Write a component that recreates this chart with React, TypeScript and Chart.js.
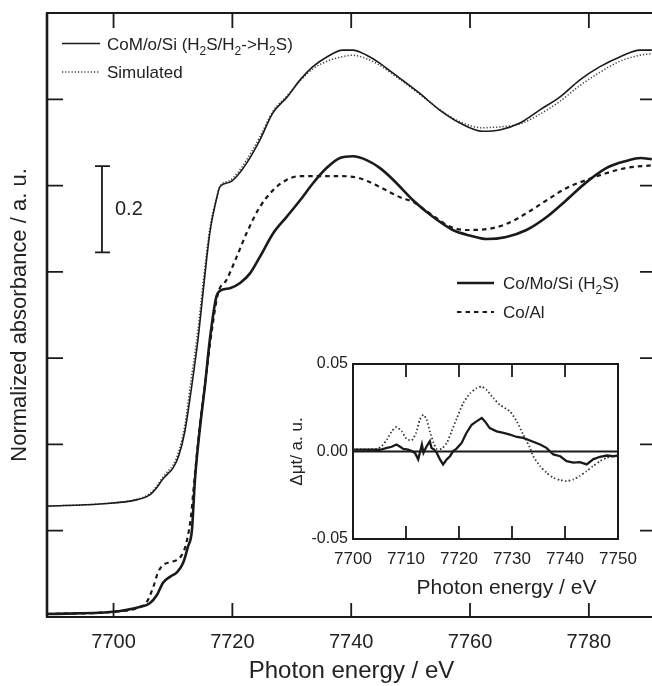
import React, { useEffect, useRef } from "react";
import { Chart, registerables } from "chart.js";

Chart.register(...registerables);

const FONT = "'Liberation Sans', Arial, Helvetica, sans-serif";
const INK = "#1a1a1a";

// ---------- main chart data ----------
const xTickVals = [7700, 7720, 7740, 7760, 7780];
const yTickVals = [0.2, 0.4, 0.6, 0.8, 1.0, 1.2];

// CoM/o/Si (H2S/H2->H2S) and Simulated share energies
const topE = [7688.8, 7697.7, 7704, 7706.1, 7707.3, 7708.2, 7709, 7710, 7711, 7712, 7713, 7714.2, 7715.2, 7716.2, 7717.4, 7717.9, 7719.6, 7720.9, 7722.4, 7724.6, 7726.8, 7729.2, 7731.4, 7733.5, 7735.9, 7738.6, 7740.3, 7742.6, 7744.8, 7747.0, 7751.5, 7754.9, 7758.3, 7762.1, 7765.0, 7768.4, 7771.7, 7775.1, 7778.5, 7781.8, 7785.2, 7788.6, 7790.6];
const topA = [0.257, 0.262, 0.272, 0.283, 0.300, 0.318, 0.330, 0.345, 0.375, 0.430, 0.520, 0.642, 0.770, 0.890, 0.973, 0.997, 1.008, 1.024, 1.052, 1.105, 1.168, 1.205, 1.245, 1.275, 1.298, 1.314, 1.314, 1.302, 1.284, 1.261, 1.214, 1.175, 1.145, 1.126, 1.129, 1.145, 1.175, 1.205, 1.245, 1.275, 1.298, 1.314, 1.314];
const simA = [0.257, 0.262, 0.273, 0.286, 0.304, 0.322, 0.336, 0.352, 0.385, 0.445, 0.545, 0.665, 0.790, 0.900, 0.975, 0.998, 1.012, 1.030, 1.060, 1.112, 1.172, 1.208, 1.243, 1.270, 1.288, 1.299, 1.302, 1.294, 1.279, 1.258, 1.212, 1.176, 1.148, 1.134, 1.136, 1.143, 1.165, 1.195, 1.232, 1.262, 1.288, 1.302, 1.306];

// Co/Mo/Si (H2S)
const botE = [7688.8, 7699.9, 7704.4, 7706.1, 7707.3, 7708.3, 7709.5, 7710.7, 7711.7, 7712.5, 7713.2, 7713.5, 7713.7, 7714.5, 7715.4, 7716.2, 7717.3, 7718.2, 7719.6, 7721.3, 7723.0, 7724.6, 7726.9, 7729.1, 7731.4, 7733.6, 7735.8, 7738.1, 7740.3, 7742.6, 7744.8, 7747.1, 7750.4, 7753.8, 7757.1, 7760.0, 7762.8, 7766.1, 7769.5, 7772.9, 7776.2, 7779.6, 7783.0, 7786.3, 7788.7, 7790.6];
const botA = [0.007, 0.012, 0.023, 0.032, 0.051, 0.079, 0.093, 0.104, 0.125, 0.162, 0.202, 0.271, 0.318, 0.433, 0.538, 0.642, 0.742, 0.758, 0.762, 0.774, 0.797, 0.834, 0.890, 0.927, 0.966, 1.006, 1.040, 1.064, 1.068, 1.059, 1.041, 1.013, 0.966, 0.927, 0.897, 0.884, 0.876, 0.881, 0.897, 0.927, 0.966, 1.008, 1.041, 1.057, 1.064, 1.061];

// Co/Al
const alE = [7688.8, 7699.9, 7704.4, 7705.6, 7706.7, 7707.5, 7708.4, 7709.5, 7710.6, 7711.5, 7712.3, 7713.1, 7713.4, 7714.5, 7715.5, 7716.5, 7717.6, 7719.0, 7720.7, 7722.4, 7724.6, 7726.9, 7729.1, 7731.4, 7734.7, 7738.1, 7741.4, 7744.8, 7748.2, 7750.4, 7753.8, 7756.6, 7759.4, 7762.8, 7766.1, 7769.5, 7772.9, 7776.2, 7779.6, 7783.0, 7786.3, 7790.6];
const alA = [0.007, 0.012, 0.023, 0.035, 0.070, 0.104, 0.121, 0.127, 0.132, 0.144, 0.174, 0.241, 0.287, 0.440, 0.550, 0.660, 0.751, 0.781, 0.834, 0.890, 0.950, 0.990, 1.013, 1.022, 1.022, 1.022, 1.017, 0.997, 0.973, 0.962, 0.930, 0.905, 0.897, 0.899, 0.911, 0.936, 0.966, 0.994, 1.013, 1.029, 1.041, 1.047];

// ---------- inset data ----------
const insetXTicks = [7700, 7710, 7720, 7730, 7740, 7750];
const insetYTicks = [-0.05, 0, 0.05];
const difSolE = [7699.9, 7705.1, 7706.4, 7707.3, 7708.2, 7708.9, 7709.5, 7710.4, 7711.1, 7711.7, 7712.3, 7712.6, 7713.0, 7713.3, 7713.6, 7713.9, 7714.5, 7714.8, 7715.3, 7715.8, 7716.4, 7717.0, 7717.7, 7718.3, 7718.9, 7719.5, 7720.5, 7721.4, 7722.4, 7723.3, 7724.3, 7724.9, 7725.8, 7727.1, 7728.4, 7729.6, 7730.9, 7732.1, 7733.4, 7735.3, 7736.5, 7737.8, 7739.1, 7740.3, 7741.6, 7742.8, 7744.1, 7745.3, 7746.6, 7747.9, 7749.1, 7750];
const difSolV = [0.0011, 0.001, 0.0021, 0.0027, 0.004, 0.0027, 0.0015, 0.0011, 0.0002, -0.0008, -0.0045, -0.0008, 0.004, -0.0008, 0.0011, 0.003, 0.0059, 0.0021, 0.0011, -0.0008, -0.0045, -0.0074, -0.0045, -0.0027, 0.0002, 0.0015, 0.0049, 0.0106, 0.0153, 0.0172, 0.0191, 0.0172, 0.0134, 0.0115, 0.0106, 0.0097, 0.0083, 0.0078, 0.0063, 0.004, 0.0021, -0.0017, -0.0027, -0.0055, -0.0064, -0.0061, -0.0074, -0.0045, -0.003, -0.0023, -0.0027, -0.0023];
const difDotE = [7699.9, 7704.5, 7705.4, 7706.4, 7707.3, 7708.2, 7709.2, 7710.1, 7711.1, 7711.9, 7712.6, 7713.3, 7713.9, 7714.5, 7715.2, 7715.8, 7716.7, 7717.7, 7718.6, 7719.6, 7720.8, 7722.1, 7723.3, 7724.3, 7725.2, 7726.5, 7727.7, 7729.6, 7730.9, 7732.1, 7733.4, 7734.0, 7735.3, 7736.5, 7737.8, 7739.1, 7740.3, 7741.6, 7742.8, 7744.1, 7745.3, 7746.6, 7747.9, 7749.1, 7750];
const difDotV = [0.0011, 0.0015, 0.003, 0.0068, 0.0115, 0.014, 0.0115, 0.0072, 0.0064, 0.0106, 0.0182, 0.021, 0.0182, 0.0115, 0.0049, 0.0015, 0.0015, 0.0049, 0.0115, 0.0191, 0.0277, 0.0333, 0.0362, 0.0371, 0.0352, 0.0305, 0.0267, 0.0229, 0.0172, 0.0097, 0.0021, -0.0027, -0.0083, -0.0121, -0.015, -0.0163, -0.0169, -0.0159, -0.014, -0.0112, -0.0083, -0.0055, -0.0036, -0.0027, -0.0023];
const zeroE = [7700, 7750];
const zeroV = [0, 0];

// ---------- text ----------
type Seg = [string, boolean];
const legendA: Seg[] = [["CoM/o/Si (H", false], ["2", true], ["S/H", false], ["2", true], ["->H", false], ["2", true], ["S)", false]];
const legendB: Seg[] = [["Simulated", false]];
const legendC: Seg[] = [["Co/Mo/Si (H", false], ["2", true], ["S)", false]];
const legendD: Seg[] = [["Co/Al", false]];

const zip = (xs: number[], ys: number[]) => xs.map((x, i) => ({ x, y: ys[i] }));

function drawRich(ctx: CanvasRenderingContext2D, segs: Seg[], x: number, y: number, size: number) {
  ctx.textBaseline = "alphabetic";
  ctx.textAlign = "left";
  let cx = x;
  for (const [t, sub] of segs) {
    const fs = sub ? Math.round(size * 0.7) : size;
    ctx.font = `${fs}px ${FONT}`;
    ctx.fillText(t, cx, sub ? y + 5 : y);
    cx += ctx.measureText(t).width;
  }
}

function legendLine(ctx: CanvasRenderingContext2D, ds: any, x1: number, x2: number, y: number) {
  ctx.save();
  ctx.strokeStyle = ds.borderColor;
  ctx.lineWidth = ds.borderWidth;
  ctx.setLineDash(ds.borderDash || []);
  ctx.beginPath();
  ctx.moveTo(x1, y);
  ctx.lineTo(x2, y);
  ctx.stroke();
  ctx.restore();
}

const mainDecor = {
  id: "mainDecor",
  afterDraw(chart: any) {
    const { ctx, chartArea: a, scales } = chart;
    const xs = scales.x;
    const ys = scales.y;
    ctx.save();
    ctx.strokeStyle = INK;
    ctx.lineWidth = 2;
    ctx.strokeRect(a.left, a.top, a.right - a.left, a.bottom - a.top);
    ctx.beginPath();
    ctx.moveTo(a.left, a.top);
    ctx.lineTo(a.left, a.bottom);
    ctx.lineWidth = 2.6;
    ctx.stroke();
    ctx.lineWidth = 1.8;
    ctx.beginPath();
    for (const v of xTickVals) {
      const px = xs.getPixelForValue(v);
      ctx.moveTo(px, a.bottom);
      ctx.lineTo(px, a.bottom - 14);
      ctx.moveTo(px, a.top);
      ctx.lineTo(px, a.top + 15);
    }
    for (const v of yTickVals) {
      const py = ys.getPixelForValue(v);
      ctx.moveTo(a.left, py);
      ctx.lineTo(a.left + 16, py);
      ctx.moveTo(a.right, py);
      ctx.lineTo(a.right - 16, py);
    }
    ctx.stroke();

    // scale bar (0.2 a.u.)
    const bx = xs.getPixelForValue(7698.05);
    const bt = ys.getPixelForValue(1.045);
    const bb = ys.getPixelForValue(0.845);
    ctx.lineWidth = 1.8;
    ctx.beginPath();
    ctx.moveTo(bx, bt);
    ctx.lineTo(bx, bb);
    ctx.moveTo(bx - 7, bt);
    ctx.lineTo(bx + 8, bt);
    ctx.moveTo(bx - 7, bb);
    ctx.lineTo(bx + 8, bb);
    ctx.stroke();
    ctx.fillStyle = "#222";
    ctx.font = `20px ${FONT}`;
    ctx.textAlign = "left";
    ctx.textBaseline = "middle";
    ctx.fillText("0.2", bx + 13, (bt + bb) / 2);

    // legends
    const ds = chart.data.datasets;
    legendLine(ctx, ds[0], 62, 100, 43.5);
    legendLine(ctx, ds[1], 62, 100, 72);
    ctx.fillStyle = "#222";
    drawRich(ctx, legendA, 107, 50, 17);
    drawRich(ctx, legendB, 107, 78, 17);
    legendLine(ctx, ds[2], 457, 494, 283);
    legendLine(ctx, ds[3], 457, 494, 312);
    ctx.fillStyle = "#222";
    drawRich(ctx, legendC, 503, 289, 17);
    drawRich(ctx, legendD, 503, 318, 17);
    ctx.restore();
  },
};

const insetDecor = {
  id: "insetDecor",
  afterDraw(chart: any) {
    const { ctx, chartArea: a, scales } = chart;
    const xs = scales.x;
    ctx.save();
    ctx.strokeStyle = INK;
    ctx.lineWidth = 2;
    ctx.strokeRect(a.left, a.top, a.right - a.left, a.bottom - a.top);
    ctx.lineWidth = 1.8;
    ctx.beginPath();
    for (const v of insetXTicks) {
      if (v <= 7700 || v >= 7750) continue;
      const px = xs.getPixelForValue(v);
      ctx.moveTo(px, a.bottom);
      ctx.lineTo(px, a.bottom - 13);
      ctx.moveTo(px, a.top);
      ctx.lineTo(px, a.top + 13);
    }
    ctx.stroke();
    ctx.fillStyle = "#222";
    ctx.font = `21px ${FONT}`;
    ctx.textAlign = "center";
    ctx.textBaseline = "middle";
    ctx.fillText("Photon energy / eV", (a.left + a.right) / 2 + 21, a.bottom + 49);
    ctx.restore();
  },
};

function MainChart() {
  const ref = useRef<HTMLCanvasElement | null>(null);
  useEffect(() => {
    if (!ref.current) return;
    const line = (label: string, data: any[], width: number, color: string, dash: number[]) => ({
      label,
      data,
      borderColor: color,
      borderWidth: width,
      borderDash: dash,
      pointRadius: 0,
      fill: false,
      cubicInterpolationMode: "monotone" as const,
    });
    const chart = new Chart(ref.current, {
      type: "line",
      data: {
        datasets: [
          line("CoM/o/Si (H₂S/H₂->H₂S)", zip(topE, topA), 1.6, INK, []),
          line("Simulated", zip(topE, simA), 1.5, "#3a3a3a", [1.2, 2]),
          line("Co/Mo/Si (H₂S)", zip(botE, botA), 2.6, INK, []),
          line("Co/Al", zip(alE, alA), 2.2, INK, [4.5, 4]),
        ],
      },
      options: {
        animation: false,
        responsive: false,
        devicePixelRatio: 1,
        layout: { padding: { top: 13, right: 4, left: 0, bottom: 0 } },
        plugins: { legend: { display: false }, tooltip: { enabled: false } },
        scales: {
          x: {
            type: "linear",
            min: 7688.8,
            max: 7791.3,
            afterBuildTicks: (s: any) => {
              s.ticks = xTickVals.map((v) => ({ value: v }));
            },
            afterFit: (s: any) => {
              s.height = 69;
            },
            grid: { display: false, drawTicks: false },
            border: { display: false },
            ticks: {
              color: "#222",
              font: { family: FONT, size: 20 },
              padding: 13,
              maxRotation: 0,
              callback: (v: any) => String(v),
            },
            title: {
              display: true,
              text: "Photon energy / eV",
              color: "#222",
              font: { family: FONT, size: 24 },
              padding: { top: 0, bottom: 0 },
            },
          },
          y: {
            type: "linear",
            min: 0,
            max: 1.4,
            afterBuildTicks: (s: any) => {
              s.ticks = yTickVals.map((v) => ({ value: v }));
            },
            afterFit: (s: any) => {
              s.width = 47;
            },
            grid: { display: false, drawTicks: false },
            border: { display: false },
            ticks: { display: false },
            title: {
              display: true,
              text: "Normalized absorbance / a. u.",
              color: "#222",
              font: { family: FONT, size: 22 },
              padding: { top: 7, bottom: 0 },
            },
          },
        },
      },
      plugins: [mainDecor],
    });
    return () => chart.destroy();
  }, []);
  return (
    <div style={{ position: "fixed", left: 0, top: 0, width: 660, height: 686 }}>
      <canvas ref={ref} width={660} height={686} style={{ width: 660, height: 686, display: "block" }} />
    </div>
  );
}

function InsetChart() {
  const ref = useRef<HTMLCanvasElement | null>(null);
  useEffect(() => {
    if (!ref.current) return;
    const chart = new Chart(ref.current, {
      type: "line",
      data: {
        datasets: [
          { label: "zero", data: zip(zeroE, zeroV), borderColor: INK, borderWidth: 2, pointRadius: 0, tension: 0 },
          { label: "Co/Mo/Si (H₂S) − CoM/o/Si (H₂S/H₂->H₂S)", data: zip(difSolE, difSolV), borderColor: INK, borderWidth: 2.3, pointRadius: 0, tension: 0 },
          { label: "Co/Al − CoM/o/Si", data: zip(difDotE, difDotV), borderColor: "#333", borderWidth: 1.8, borderDash: [1.5, 2.3], pointRadius: 0, tension: 0.2 },
        ],
      },
      options: {
        animation: false,
        responsive: false,
        devicePixelRatio: 1,
        layout: { padding: { top: 24, right: 32, left: 0, bottom: 0 } },
        plugins: { legend: { display: false }, tooltip: { enabled: false } },
        scales: {
          x: {
            type: "linear",
            min: 7700,
            max: 7750,
            afterBuildTicks: (s: any) => {
              s.ticks = insetXTicks.map((v) => ({ value: v }));
            },
            afterFit: (s: any) => {
              s.height = 71;
            },
            grid: { display: false, drawTicks: false },
            border: { display: false },
            ticks: {
              color: "#222",
              font: { family: FONT, size: 17 },
              padding: 10,
              maxRotation: 0,
              autoSkip: false,
              callback: (v: any) => String(v),
            },
          },
          y: {
            type: "linear",
            min: -0.05,
            max: 0.05,
            afterBuildTicks: (s: any) => {
              s.ticks = insetYTicks.map((v) => ({ value: v }));
            },
            afterFit: (s: any) => {
              s.width = 83;
            },
            grid: { display: false, drawTicks: false },
            border: { display: false },
            ticks: {
              color: "#222",
              font: { family: FONT, size: 16 },
              padding: 5,
              callback: (v: any) => Number(v).toFixed(2),
            },
            title: {
              display: true,
              text: "Δμt/ a. u.",
              color: "#222",
              font: { family: FONT, size: 17 },
              padding: { top: 17, bottom: 0 },
            },
          },
        },
      },
      plugins: [insetDecor],
    });
    return () => chart.destroy();
  }, []);
  return (
    <div style={{ position: "fixed", left: 270, top: 340, width: 380, height: 270 }}>
      <canvas ref={ref} width={380} height={270} style={{ width: 380, height: 270, display: "block" }} />
    </div>
  );
}

export default function App() {
  return (
    <>
      <MainChart />
      <InsetChart />
    </>
  );
}
